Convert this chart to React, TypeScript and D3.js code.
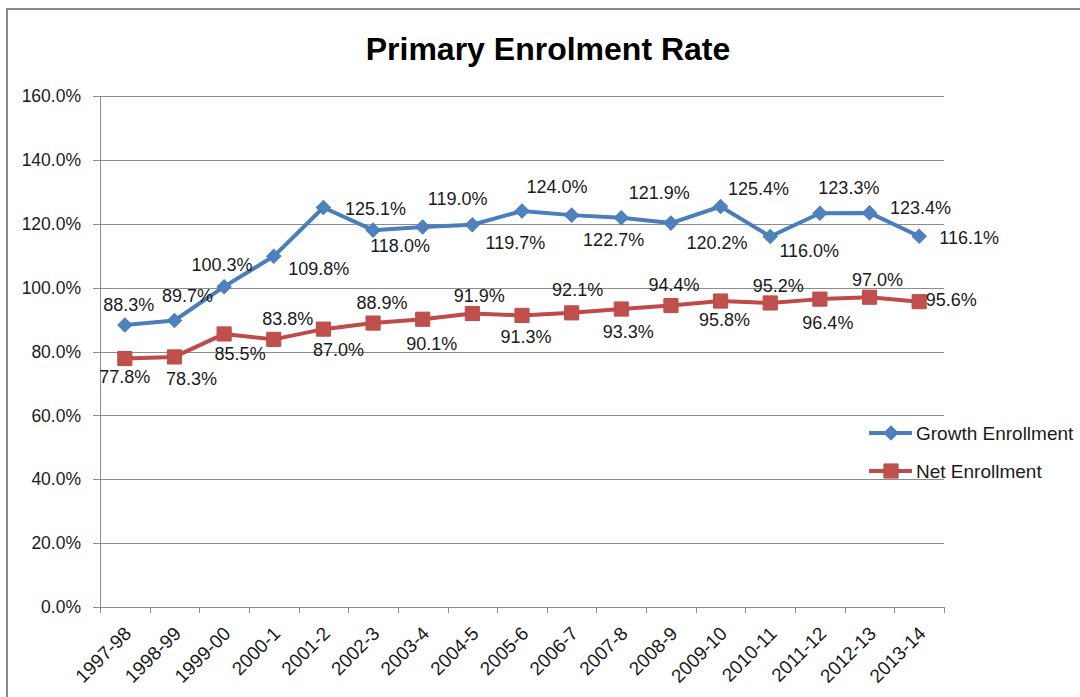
import React from 'react';
import * as d3 from 'd3';

const categories = ['1997-98', '1998-99', '1999-00', '2000-1', '2001-2', '2002-3', '2003-4', '2004-5', '2005-6', '2006-7', '2007-8', '2008-9', '2009-10', '2010-11', '2011-12', '2012-13', '2013-14'];
const growthEnrollment = [88.3, 89.7, 100.3, 109.8, 125.1, 118.0, 119.0, 119.7, 124.0, 122.7, 121.9, 120.2, 125.4, 116.0, 123.3, 123.4, 116.1];
const netEnrollment = [77.8, 78.3, 85.5, 83.8, 87.0, 88.9, 90.1, 91.9, 91.3, 92.1, 93.3, 94.4, 95.8, 95.2, 96.4, 97.0, 95.6];
const yTicks = [0, 20, 40, 60, 80, 100, 120, 140, 160];
const seriesNames = ['Growth Enrollment', 'Net Enrollment'];
const title = 'Primary Enrolment Rate';

// label placement (offset of label centre from point), as in the reference
const growthLabelOffsets: [number, number][] = [
  [4, -20], [13, -25], [-2, -22], [45, 12], [52, 1], [27, 16], [35, -28], [43, 18], [35, -24],
  [42, 25], [38, -25], [46, 20], [38, -18], [39, 14], [29, -26], [51, -5], [50, 1],
];
const netLabelOffsets: [number, number][] = [
  [0, 18], [17, 22], [16, 20], [14, -21], [15, 21], [9, -20], [9, 24], [7, -18], [4, 21],
  [6, -23], [7, 23], [3, -21], [4, 19], [8, -17], [8, 24], [8, -18], [32, -2],
];

const W = 1080;
const H = 697;
const plot = { left: 100, right: 944, top: 96, bottom: 607 };
const FONT = '"Liberation Sans", Arial, sans-serif';
const BLUE = '#4A7EBB';
const BLUE_FILL = '#4F81BD';
const RED = '#BE4B48';
const RED_FILL = '#C0504D';
const GRID = '#8c8c8c';
const TEXT = '#1a1a1a';

export default function App() {
  const x = d3.scaleBand<string>().domain(categories).range([plot.left, plot.right]).paddingInner(0).paddingOuter(0);
  const y = d3.scaleLinear().domain([0, 160]).range([plot.bottom, plot.top]);
  const cx = (c: string) => (x(c) as number) + x.bandwidth() / 2;
  const fmt = (v: number) => v.toFixed(1) + '%';

  const line = d3.line<number>().x((_, i) => cx(categories[i])).y((v) => y(v));
  const diamond = d3.symbol().type(d3.symbolSquare).size(100)();
  const square = d3.symbol().type(d3.symbolSquare).size(200)();

  const boundaries = d3.range(categories.length + 1).map((i) => plot.left + i * x.bandwidth());

  return (
    <svg width={W} height={H} style={{ position: 'absolute', left: 0, top: 0, background: '#fff' }} fontFamily={FONT}>
      <rect x={0} y={0} width={W} height={H} fill="#fff" />
      <rect x={7} y={9} width={W + 20} height={H + 20} fill="none" stroke="#8a8a8a" strokeWidth={2} />
      <text x={548} y={60} textAnchor="middle" fontSize={32} fontWeight="bold" fill="#000">{title}</text>

      {/* gridlines */}
      {yTicks.map((t) => (
        <line key={'g' + t} x1={plot.left - 7} x2={plot.right} y1={Math.round(y(t)) + 0.5} y2={Math.round(y(t)) + 0.5} stroke={GRID} strokeWidth={1} />
      ))}
      {/* y axis */}
      <line x1={plot.left + 0.5} x2={plot.left + 0.5} y1={plot.top} y2={plot.bottom + 6} stroke={GRID} strokeWidth={1} />
      {yTicks.map((t) => (
        <text key={'yl' + t} x={81} y={y(t)} dy="0.35em" textAnchor="end" fontSize={17.5} fill={TEXT}>{t.toFixed(1) + '%'}</text>
      ))}
      {/* x ticks */}
      {boundaries.map((b, i) => (
        <line key={'xt' + i} x1={Math.round(b) + 0.5} x2={Math.round(b) + 0.5} y1={plot.bottom} y2={plot.bottom + 6} stroke={GRID} strokeWidth={1} />
      ))}
      {categories.map((c) => (
        <text key={'xl' + c} transform={`translate(${cx(c) + 3},${630}) rotate(-45)`} dy="0.35em" textAnchor="end" fontSize={19} fill={TEXT}>{c}</text>
      ))}

      {/* growth series */}
      <path d={line(growthEnrollment) as string} fill="none" stroke={BLUE} strokeWidth={4} strokeLinejoin="round" />
      {growthEnrollment.map((v, i) => (
        <path key={'gm' + i} d={diamond as string} transform={`translate(${cx(categories[i])},${y(v)}) rotate(45)`} fill={BLUE_FILL} stroke={BLUE} strokeWidth={1} />
      ))}
      {/* net series */}
      <path d={line(netEnrollment) as string} fill="none" stroke={RED} strokeWidth={4} strokeLinejoin="round" />
      {netEnrollment.map((v, i) => (
        <path key={'nm' + i} d={square as string} transform={`translate(${cx(categories[i])},${y(v)})`} fill={RED_FILL} stroke={RED} strokeWidth={1} />
      ))}

      {/* data labels */}
      {growthEnrollment.map((v, i) => (
        <text key={'gl' + i} x={cx(categories[i]) + growthLabelOffsets[i][0]} y={y(v) + growthLabelOffsets[i][1]} dy="0.35em" textAnchor="middle" fontSize={18} fill={TEXT}>{fmt(v)}</text>
      ))}
      {netEnrollment.map((v, i) => (
        <text key={'nl' + i} x={cx(categories[i]) + netLabelOffsets[i][0]} y={y(v) + netLabelOffsets[i][1]} dy="0.35em" textAnchor="middle" fontSize={18} fill={TEXT}>{fmt(v)}</text>
      ))}

      {/* legend */}
      <g>
        <line x1={869} x2={912} y1={433} y2={433} stroke={BLUE} strokeWidth={4} />
        <path d={diamond as string} transform="translate(891,433) rotate(45)" fill={BLUE_FILL} stroke={BLUE} strokeWidth={1} />
        <text x={916} y={433} dy="0.35em" fontSize={19} fill={TEXT}>{seriesNames[0]}</text>
        <line x1={869} x2={912} y1={471} y2={471} stroke={RED} strokeWidth={4} />
        <path d={square as string} transform="translate(891,471)" fill={RED_FILL} stroke={RED} strokeWidth={1} />
        <text x={916} y={471} dy="0.35em" fontSize={19} fill={TEXT}>{seriesNames[1]}</text>
      </g>
    </svg>
  );
}
